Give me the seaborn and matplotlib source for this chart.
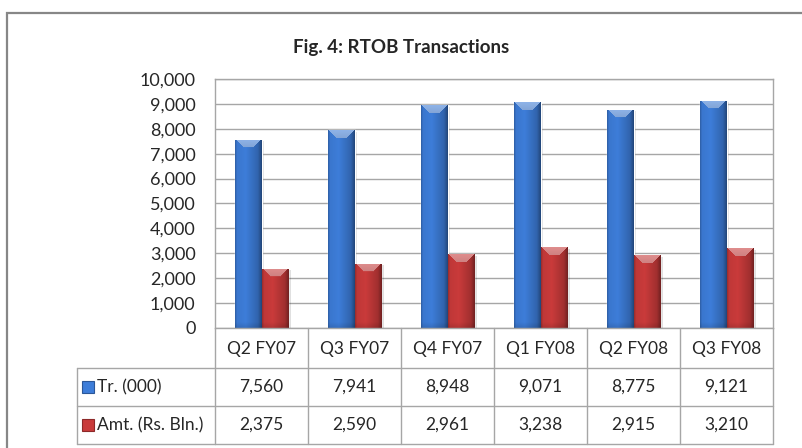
import numpy as np
import pandas as pd
import seaborn as sns
import matplotlib.pyplot as plt
from matplotlib.patches import Rectangle
from matplotlib.lines import Line2D
from matplotlib.transforms import blended_transform_factory

quarters = ["Q2 FY07", "Q3 FY07", "Q4 FY07", "Q1 FY08", "Q2 FY08", "Q3 FY08"]
transactions = [7560, 7941, 8948, 9071, 8775, 9121]
amounts = [2375, 2590, 2961, 3238, 2915, 3210]
series_names = ["Tr. (000)", "Amt. (Rs. Bln.)"]
title = "Fig. 4: RTOB Transactions"

blue = np.array([0.24, 0.49, 0.85])
red = np.array([0.79, 0.23, 0.23])
grid_col = "#A6A6A6"

sns.set_style("white")
plt.rcParams["font.family"] = ["Lato", "DejaVu Sans"]

df = pd.DataFrame({
    "quarter": quarters * 2,
    "value": transactions + amounts,
    "series": [series_names[0]] * 6 + [series_names[1]] * 6,
})

W, H = 802, 448
fig = plt.figure(figsize=(W / 100, H / 100), dpi=100)


def fx(px):
    return px / W


def fy(py):
    return 1 - py / H


ax = fig.add_axes([fx(215), fy(328), fx(773) - fx(215), fy(79) - fy(328)])
sns.barplot(data=df, x="quarter", y="value", hue="series",
            palette=[tuple(blue), tuple(red)], width=0.58, saturation=1,
            ax=ax, legend=False)

ax.set_xlim(-0.5, 5.5)
ax.set_ylim(0, 10000)
ticks = list(range(0, 10001, 1000))
ax.set_yticks(ticks)
ax.set_yticklabels([f"{t:,}" for t in ticks], fontsize=13)
ax.set_xticks([])
ax.set_xlabel("")
ax.set_ylabel("")
ax.tick_params(axis="y", length=0, pad=14)
ax.yaxis.grid(True, color=grid_col, lw=1)
ax.set_axisbelow(True)
for s in ax.spines.values():
    s.set_color(grid_col)
    s.set_linewidth(1)


def bar_image(base, w_px, h_px, bevel=8):
    # cylinder-like shading with a lighter bevel on top
    cols = np.arange(w_px) + 0.5
    t = cols / w_px
    shade = np.interp(t, [0, 0.08, 0.4, 0.85, 1], [0.74, 0.95, 1.0, 0.8, 0.55])
    img = np.ones((h_px, w_px, 3)) * base[None, None, :] * shade[None, :, None]
    rows = np.arange(h_px) + 0.5
    dy = np.broadcast_to(rows[:, None], (h_px, w_px))
    dxl = np.broadcast_to(cols[None, :], (h_px, w_px))
    dxr = w_px - dxl
    mask = (dy < bevel) & (dy < dxl) & (dy < dxr)
    light = base + (1 - base) * 0.42
    k = np.interp(dy[mask], [0, bevel], [1.0, 0.92])
    img[mask] = light[None, :] * k[:, None]
    fade = np.clip((rows - (h_px - 6)) / 6, 0, 1) * 0.12
    img = img * (1 - fade[:, None, None])
    return np.clip(img, 0, 1)


bars = list(ax.patches)
for k, patch in enumerate(bars):
    x0, y0 = patch.get_x(), patch.get_y()
    w, h = patch.get_width(), patch.get_height()
    if h <= 0:
        continue
    base = blue if k < len(quarters) else red
    h_px = max(int(round(h / 10000 * 249)), 2)
    w_px = max(int(round(w * 93)), 2)
    ax.add_patch(Rectangle((x0 + 0.03, y0), w, h - 60, color="#000000",
                           alpha=0.12, lw=0, zorder=patch.get_zorder() - 0.1))
    im = ax.imshow(bar_image(base, w_px, h_px), extent=[x0, x0 + w, y0, y0 + h],
                   aspect="auto", origin="upper", interpolation="bilinear",
                   zorder=patch.get_zorder() + 0.1)
    im.set_clip_path(patch)
ax.set_xlim(-0.5, 5.5)
ax.set_ylim(0, 10000)

fig.text(0.5, fy(47), title, ha="center", va="center", fontsize=13.5,
         fontweight="bold")

# data table under the chart
tr = blended_transform_factory(ax.transData, fig.transFigure)
row_lines = [328, 368, 406, 444]
for i in range(len(quarters) + 1):
    fig.add_artist(Line2D([i - 0.5, i - 0.5], [fy(328), fy(444)], transform=tr,
                          color=grid_col, lw=1))
for py in row_lines[1:]:
    fig.add_artist(Line2D([fx(77), fx(215)], [fy(py), fy(py)], color=grid_col, lw=1))
    fig.add_artist(Line2D([-0.5, len(quarters) - 0.5], [fy(py), fy(py)], transform=tr,
                          color=grid_col, lw=1))
fig.add_artist(Line2D([fx(77), fx(77)], [fy(368), fy(444)], color=grid_col, lw=1))

for i, q in enumerate(quarters):
    fig.text(i, fy(349), q, transform=tr, ha="center", va="center", fontsize=12.5)
    fig.text(i, fy(387), f"{transactions[i]:,}", transform=tr, ha="center",
             va="center", fontsize=12.5)
    fig.text(i, fy(425), f"{amounts[i]:,}", transform=tr, ha="center",
             va="center", fontsize=12.5)

for name, col, py in [(series_names[0], blue, 387), (series_names[1], red, 425)]:
    fig.patches.append(Rectangle((fx(82), fy(py + 6)), fx(12), 12 / H,
                                 transform=fig.transFigure, facecolor=tuple(col),
                                 edgecolor=tuple(col * 0.7), lw=0.8))
    fig.text(fx(97), fy(py), name, ha="left", va="center", fontsize=12.5)

# outer chart border
fig.patches.append(Rectangle((fx(7), -0.1), 1.2, fy(13) + 0.1,
                             transform=fig.transFigure, fill=False,
                             edgecolor="#878787", lw=1.6))

fig.savefig("out.png", dpi=100)
